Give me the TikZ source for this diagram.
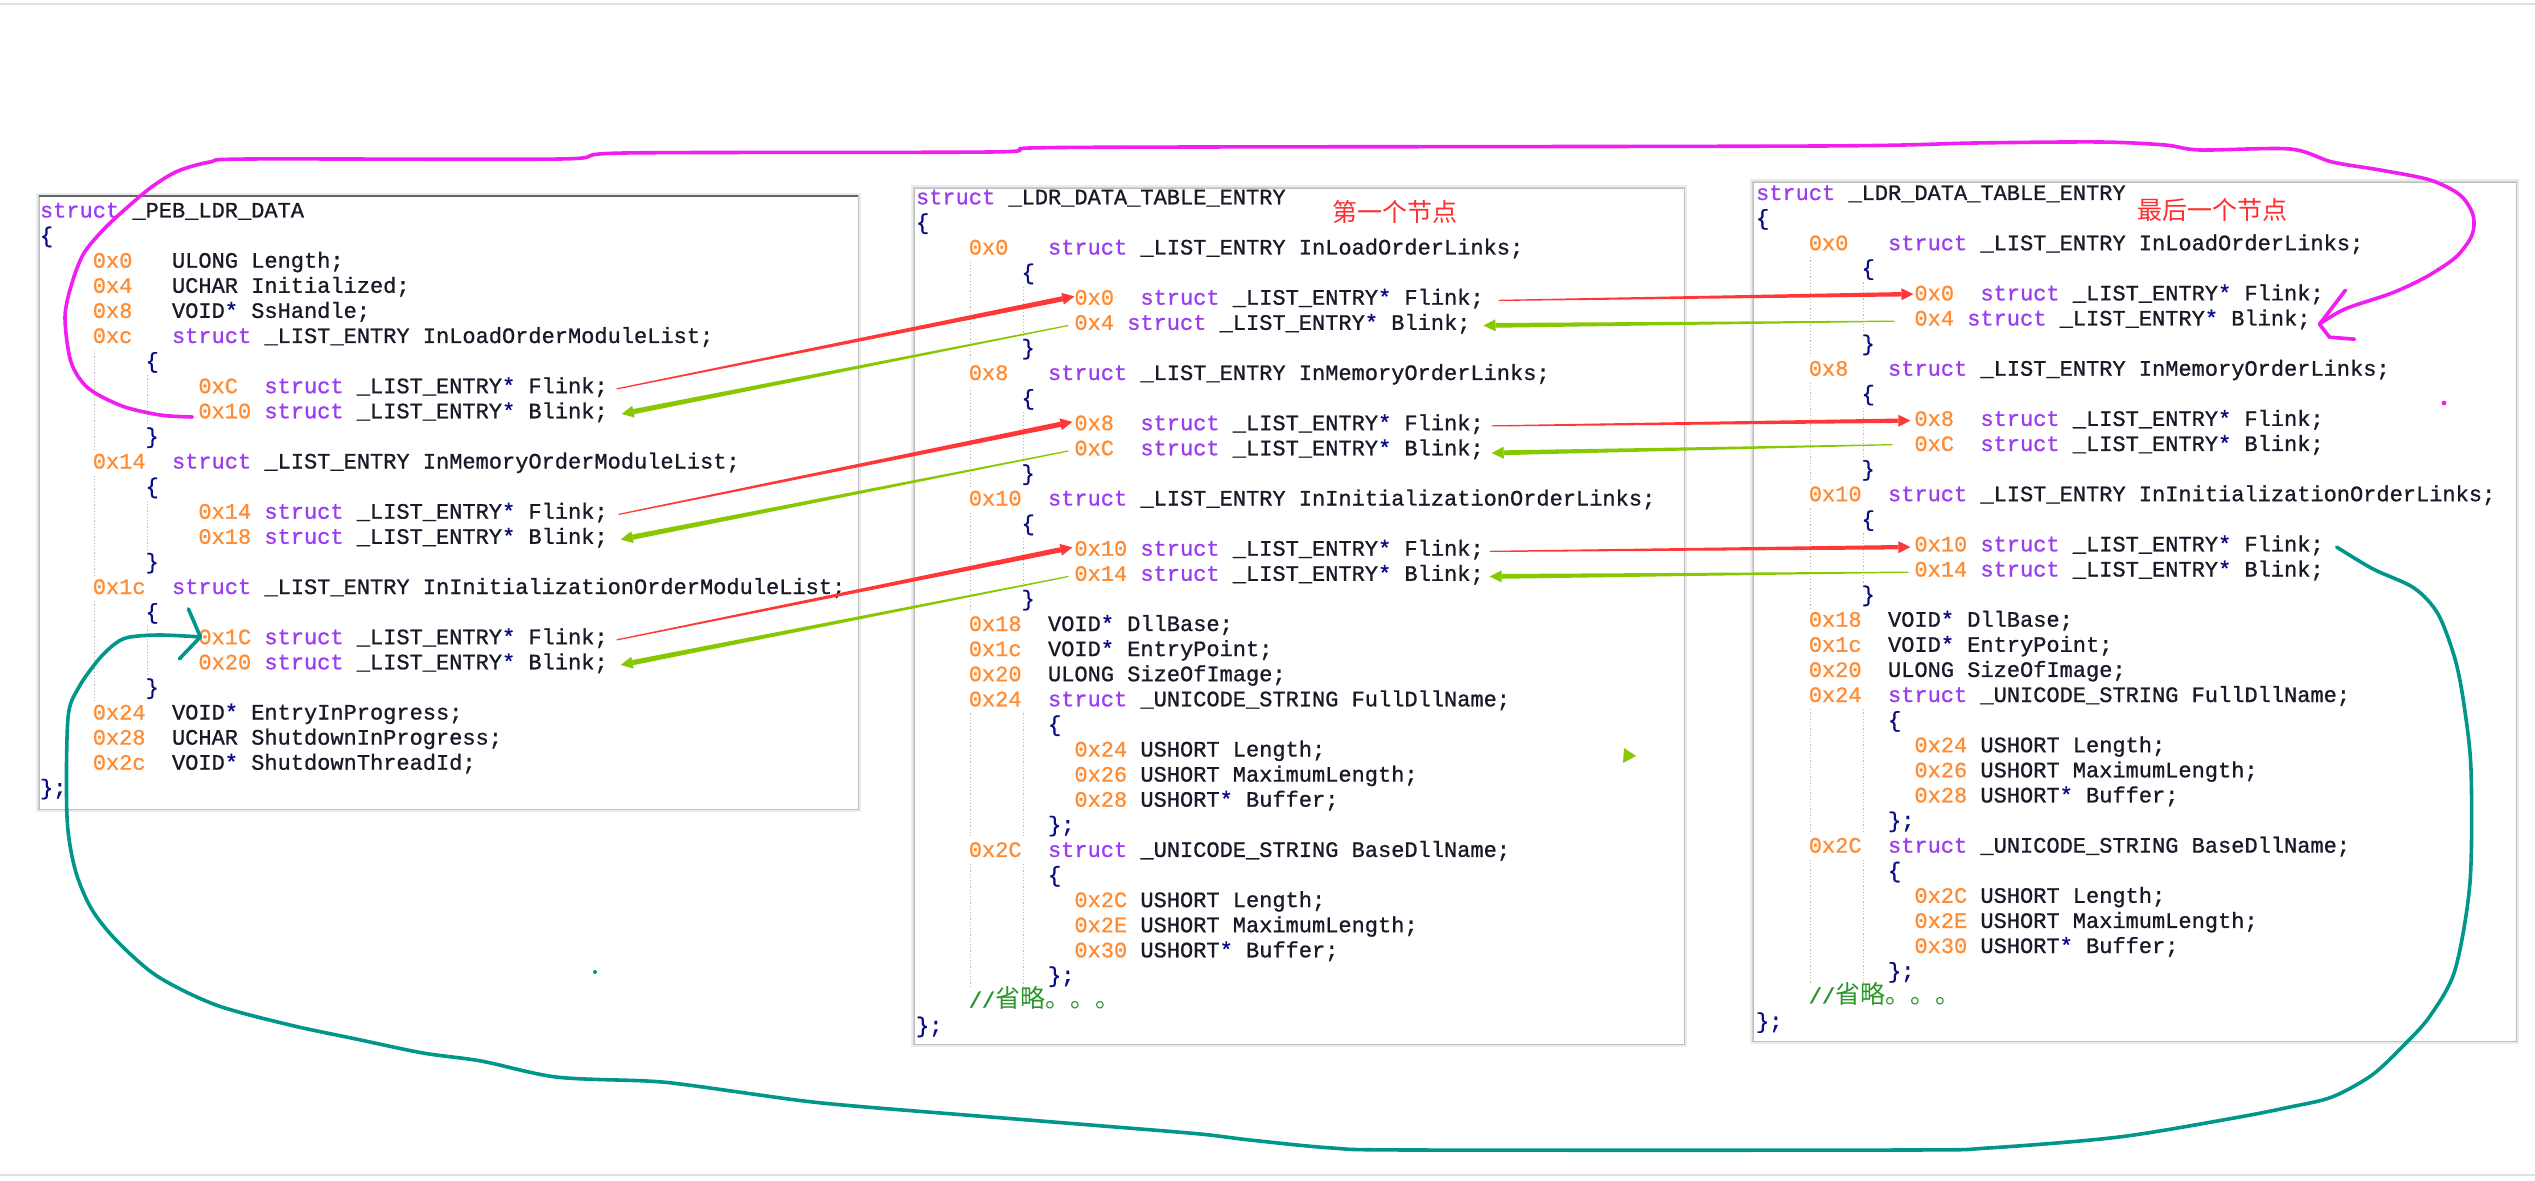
\documentclass[tikz,border=0pt]{standalone}
\usepackage{fontspec}
\newfontfamily\codefont{Liberation Mono}[FakeBold=0.9]
\newfontfamily\cjk{Noto Sans CJK SC}
\usetikzlibrary{calc}
\definecolor{kwc}{RGB}{155,60,240}
\definecolor{ofc}{RGB}{255,140,50}
\definecolor{txc}{RGB}{25,25,40}
\definecolor{bcc}{RGB}{10,10,130}
\definecolor{cmc}{RGB}{40,150,40}
\definecolor{lblc}{RGB}{255,45,45}
\definecolor{redar}{RGB}{255,55,55}
\definecolor{grnar}{RGB}{135,200,0}
\definecolor{magc}{RGB}{240,30,240}
\definecolor{tealc}{RGB}{0,150,140}
\definecolor{guidec}{RGB}{185,185,185}
\newcommand\kw[1]{\textcolor{kwc}{#1}}
\newcommand\of[1]{\textcolor{ofc}{#1}}
\newcommand\bc[1]{\textcolor{bcc}{#1}}
% name, X0, Y0, row, col, text
\newcommand\cdl[6]{\node[code] (#1) at ({#2+#5*13.2},{#3+#4*25.1+6}) {#6};}
% X0, Y0, col, row1, row2
\newcommand\guide[5]{\draw[guide] ({#1+#3*13.2+2},{#2+#4*25.1-12}) -- ({#1+#3*13.2+2},{#2+#5*25.1+12});}
% x1,y1,x2,y2
\newcommand\panel[4]{%
  \draw[black!8, line width=3pt] (#1,#2) rectangle (#3,#4);
  \draw[black!18, line width=1.4pt] (#1,#2) rectangle (#3,#4);
  \fill[white] (#1,#2) rectangle (#3,#4);
  \draw[black!25, line width=0.4pt] (#1,#2) rectangle (#3,#4);}
% colour, tail, tip, shaft half width
\newcommand\tarrow[4]{%
  \coordinate (hb) at ($(#3)!6pt!(#2)$);
  \fill[#1] ($(#2)!0.3pt!90:(#3)$) -- ($(hb)!#4!-90:(#2)$) -- ($(hb)!#4!90:(#2)$) -- ($(#2)!0.3pt!-90:(#3)$) -- cycle;
  \fill[#1] (#3) -- ($(hb)!3pt!90:(#2)$) -- ($(hb)!3pt!-90:(#2)$) -- cycle;}
\newcommand\cmt{\textcolor{cmc}{//{\cjk\fontsize{12.5pt}{12.5pt}\selectfont 省略。。。}}}
% prefix, X0, Y0
\newcommand\ldrpanel[3]{%
  \guide{#2}{#3}{4}{3}{6}\guide{#2}{#3}{8}{4}{5}
  \guide{#2}{#3}{4}{8}{11}\guide{#2}{#3}{8}{9}{10}
  \guide{#2}{#3}{4}{13}{16}\guide{#2}{#3}{8}{14}{15}
  \guide{#2}{#3}{4}{21}{25}\guide{#2}{#3}{8}{21}{25}
  \guide{#2}{#3}{4}{27}{31}\guide{#2}{#3}{8}{27}{31}
  \cdl{#10}{#2}{#3}{0}{0}{\kw{struct} \_LDR\_DATA\_TABLE\_ENTRY}
  \cdl{#11}{#2}{#3}{1}{0}{\bc{\{}}
  \cdl{#12}{#2}{#3}{2}{4}{\of{0x0}~~~\kw{struct} \_LIST\_ENTRY InLoadOrderLinks;}
  \cdl{#13}{#2}{#3}{3}{8}{\bc{\{}}
  \cdl{#14}{#2}{#3}{4}{12}{\of{0x0}~~\kw{struct} \_LIST\_ENTRY\bc{*} Flink;}
  \cdl{#15}{#2}{#3}{5}{12}{\of{0x4} \kw{struct} \_LIST\_ENTRY\bc{*} Blink;}
  \cdl{#16}{#2}{#3}{6}{8}{\bc{\}}}
  \cdl{#17}{#2}{#3}{7}{4}{\of{0x8}~~~\kw{struct} \_LIST\_ENTRY InMemoryOrderLinks;}
  \cdl{#18}{#2}{#3}{8}{8}{\bc{\{}}
  \cdl{#19}{#2}{#3}{9}{12}{\of{0x8}~~\kw{struct} \_LIST\_ENTRY\bc{*} Flink;}
  \cdl{#110}{#2}{#3}{10}{12}{\of{0xC}~~\kw{struct} \_LIST\_ENTRY\bc{*} Blink;}
  \cdl{#111}{#2}{#3}{11}{8}{\bc{\}}}
  \cdl{#112}{#2}{#3}{12}{4}{\of{0x10}~~\kw{struct} \_LIST\_ENTRY InInitializationOrderLinks;}
  \cdl{#113}{#2}{#3}{13}{8}{\bc{\{}}
  \cdl{#114}{#2}{#3}{14}{12}{\of{0x10} \kw{struct} \_LIST\_ENTRY\bc{*} Flink;}
  \cdl{#115}{#2}{#3}{15}{12}{\of{0x14} \kw{struct} \_LIST\_ENTRY\bc{*} Blink;}
  \cdl{#116}{#2}{#3}{16}{8}{\bc{\}}}
  \cdl{#117}{#2}{#3}{17}{4}{\of{0x18}~~VOID\bc{*} DllBase;}
  \cdl{#118}{#2}{#3}{18}{4}{\of{0x1c}~~VOID\bc{*} EntryPoint;}
  \cdl{#119}{#2}{#3}{19}{4}{\of{0x20}~~ULONG SizeOfImage;}
  \cdl{#120}{#2}{#3}{20}{4}{\of{0x24}~~\kw{struct} \_UNICODE\_STRING FullDllName;}
  \cdl{#121}{#2}{#3}{21}{10}{\bc{\{}}
  \cdl{#122}{#2}{#3}{22}{12}{\of{0x24} USHORT Length;}
  \cdl{#123}{#2}{#3}{23}{12}{\of{0x26} USHORT MaximumLength;}
  \cdl{#124}{#2}{#3}{24}{12}{\of{0x28} USHORT\bc{*} Buffer;}
  \cdl{#125}{#2}{#3}{25}{10}{\bc{\};}}
  \cdl{#126}{#2}{#3}{26}{4}{\of{0x2C}~~\kw{struct} \_UNICODE\_STRING BaseDllName;}
  \cdl{#127}{#2}{#3}{27}{10}{\bc{\{}}
  \cdl{#128}{#2}{#3}{28}{12}{\of{0x2C} USHORT Length;}
  \cdl{#129}{#2}{#3}{29}{12}{\of{0x2E} USHORT MaximumLength;}
  \cdl{#130}{#2}{#3}{30}{12}{\of{0x30} USHORT\bc{*} Buffer;}
  \cdl{#131}{#2}{#3}{31}{10}{\bc{\};}}
  \cdl{#132}{#2}{#3}{32}{4}{\cmt}
  \cdl{#133}{#2}{#3}{33}{0}{\bc{\};}}}
\begin{document}
\begin{tikzpicture}[x=0.5pt,y=-0.5pt,
  code/.style={anchor=base west, inner sep=0pt, outer sep=0pt,
    font=\codefont\fontsize{11pt}{12pt}\selectfont, text=txc},
  guide/.style={guidec, line width=0.5pt, dash pattern=on 0.6pt off 1pt},
  lbl/.style={inner sep=0pt, text=lblc, font=\cjk\fontsize{12.5pt}{15pt}\selectfont},
  freehand/.style={line width=1.8pt, line cap=round, line join=round}]
\useasboundingbox (0,0) rectangle (2535,1181);
\fill[white] (0,0) rectangle (2535,1181);
\draw[black!12, line width=1pt] (0,4) -- (2535,4);
\draw[black!12, line width=1pt] (0,1175) -- (2535,1175);
% panels
\panel{39}{196}{858}{809}
\draw[black!60, line width=1pt] (39,196) -- (858,196);
\panel{914}{188}{1684}{1044}
\panel{1753}{182}{2516}{1041}
% left panel guides
\guide{40}{211.5}{4}{6}{9}\guide{40}{211.5}{8}{7}{8}
\guide{40}{211.5}{4}{11}{14}\guide{40}{211.5}{8}{12}{13}
\guide{40}{211.5}{4}{16}{19}\guide{40}{211.5}{8}{17}{18}
% left panel text
\cdl{L0}{40}{211.5}{0}{0}{\kw{struct} \_PEB\_LDR\_DATA}
\cdl{L1}{40}{211.5}{1}{0}{\bc{\{}}
\cdl{L2}{40}{211.5}{2}{4}{\of{0x0}~~~ULONG Length;}
\cdl{L3}{40}{211.5}{3}{4}{\of{0x4}~~~UCHAR Initialized;}
\cdl{L4}{40}{211.5}{4}{4}{\of{0x8}~~~VOID\bc{*} SsHandle;}
\cdl{L5}{40}{211.5}{5}{4}{\of{0xc}~~~\kw{struct} \_LIST\_ENTRY InLoadOrderModuleList;}
\cdl{L6}{40}{211.5}{6}{8}{\bc{\{}}
\cdl{L7}{40}{211.5}{7}{12}{\of{0xC}~~\kw{struct} \_LIST\_ENTRY\bc{*} Flink;}
\cdl{L8}{40}{211.5}{8}{12}{\of{0x10} \kw{struct} \_LIST\_ENTRY\bc{*} Blink;}
\cdl{L9}{40}{211.5}{9}{8}{\bc{\}}}
\cdl{L10}{40}{211.5}{10}{4}{\of{0x14}~~\kw{struct} \_LIST\_ENTRY InMemoryOrderModuleList;}
\cdl{L11}{40}{211.5}{11}{8}{\bc{\{}}
\cdl{L12}{40}{211.5}{12}{12}{\of{0x14} \kw{struct} \_LIST\_ENTRY\bc{*} Flink;}
\cdl{L13}{40}{211.5}{13}{12}{\of{0x18} \kw{struct} \_LIST\_ENTRY\bc{*} Blink;}
\cdl{L14}{40}{211.5}{14}{8}{\bc{\}}}
\cdl{L15}{40}{211.5}{15}{4}{\of{0x1c}~~\kw{struct} \_LIST\_ENTRY InInitializationOrderModuleList;}
\cdl{L16}{40}{211.5}{16}{8}{\bc{\{}}
\cdl{L17}{40}{211.5}{17}{12}{\of{0x1C} \kw{struct} \_LIST\_ENTRY\bc{*} Flink;}
\cdl{L18}{40}{211.5}{18}{12}{\of{0x20} \kw{struct} \_LIST\_ENTRY\bc{*} Blink;}
\cdl{L19}{40}{211.5}{19}{8}{\bc{\}}}
\cdl{L20}{40}{211.5}{20}{4}{\of{0x24}~~VOID\bc{*} EntryInProgress;}
\cdl{L21}{40}{211.5}{21}{4}{\of{0x28}~~UCHAR ShutdownInProgress;}
\cdl{L22}{40}{211.5}{22}{4}{\of{0x2c}~~VOID\bc{*} ShutdownThreadId;}
\cdl{L23}{40}{211.5}{23}{0}{\bc{\};}}
% middle and right panels
\ldrpanel{M}{916}{198.3}
\ldrpanel{R}{1756}{194}
\node[lbl] (lab1) at (1395,212) {第一个节点};
\node[lbl] (lab2) at (2212,210) {最后一个节点};
% arrows left <-> middle
\coordinate (a1t) at ($(L7.mid east)+(9,0)$);   \coordinate (a1h) at ($(M4.mid west)+(0,-4)$);
\coordinate (a2t) at ($(L12.mid east)+(11,0)$); \coordinate (a2h) at ($(M9.mid west)+(-2,-4)$);
\coordinate (a3t) at ($(L17.mid east)+(9,0)$);  \coordinate (a3h) at ($(M14.mid west)+(-2,-4)$);
\coordinate (g1t) at ($(M5.mid west)+(-6,0)$);  \coordinate (g1h) at ($(L8.mid east)+(14,0)$);
\coordinate (g2t) at ($(M10.mid west)+(-6,0)$); \coordinate (g2h) at ($(L13.mid east)+(13,0)$);
\coordinate (g3t) at ($(M15.mid west)+(-6,0)$); \coordinate (g3h) at ($(L18.mid east)+(13,0)$);
\tarrow{redar}{a1t}{a1h}{1.3pt}
\tarrow{redar}{a2t}{a2h}{1.3pt}
\tarrow{redar}{a3t}{a3h}{1.3pt}
\tarrow{grnar}{g1t}{g1h}{1.3pt}
\tarrow{grnar}{g2t}{g2h}{1.3pt}
\tarrow{grnar}{g3t}{g3h}{1.3pt}
% arrows middle <-> right
\coordinate (b1t) at ($(M4.mid east)+(15,0)$);  \coordinate (b1h) at ($(R4.mid west)+(-1,-2)$);
\coordinate (b2t) at ($(M9.mid east)+(8,0)$);   \coordinate (b2h) at ($(R9.mid west)+(-4,-1)$);
\coordinate (b3t) at ($(M14.mid east)+(6,0)$);  \coordinate (b3h) at ($(R14.mid west)+(-4,0)$);
\coordinate (h1t) at ($(R5.mid west)+(-20,0)$); \coordinate (h1h) at ($(M5.mid east)+(13,0)$);
\coordinate (h2t) at ($(R10.mid west)+(-22,-2)$); \coordinate (h2h) at ($(M10.mid east)+(8,2)$);
\coordinate (h3t) at ($(R15.mid west)+(-6,0)$); \coordinate (h3h) at ($(M15.mid east)+(6,0)$);
\tarrow{redar}{b1t}{b1h}{1.1pt}
\tarrow{redar}{b2t}{b2h}{1.1pt}
\tarrow{redar}{b3t}{b3h}{1.1pt}
\tarrow{grnar}{h1t}{h1h}{1.2pt}
\tarrow{grnar}{h2t}{h2h}{1.2pt}
\tarrow{grnar}{h3t}{h3h}{1.2pt}
% magenta freehand
\coordinate (mg0) at ($(L8.mid west)+(-6,3)$);
\coordinate (mg1) at ($(R5.mid east)+(9,3)$);
\draw[freehand, magc] plot[smooth, tension=0.5] coordinates {(mg0) (160,415) (122,406) (88,388) (71,362) (65,317) (72,283) (84,253) (105,228) (130,205) (153,186) (178,171) (210,162) (250,159) (560,159) (625,153) (990,152) (1030,148) (1200,147) (1820,146) (1975,143) (2100,142) (2165,145) (2200,150) (2290,149) (2332,162) (2380,170) (2430,180) (2460,195) (2473,215) (2472,235) (2456,257) (2426,277) (2392,293) (2345,309) (mg1)};
\draw[freehand, magc] ($(mg1)+(26,-34)$) -- (mg1) -- ($(mg1)+(10,13)$) -- ($(mg1)+(35,15)$);
% teal freehand
\coordinate (tl0) at ($(R14.mid east)+(13,0)$);
\coordinate (tl1) at ($(L17.mid west)+(2,-3)$);
\draw[freehand, tealc] plot[smooth, tension=0.5] coordinates {(tl0) (2373,569) (2414,588) (2438,614) (2455,659) (2464,705) (2471,770) (2470,882) (2455,970) (2430,1016) (2405,1044) (2372,1075) (2332,1097) (2290,1107) (2234,1118) (2119,1137) (1988,1148) (1906,1150) (1414,1150) (1332,1148) (1250,1140) (1200,1134) (1103,1126) (953,1114) (854,1106) (796,1100) (688,1085) (647,1081) (556,1077) (481,1061) (423,1053) (356,1039) (290,1025) (216,1005) (157,976) (116,940) (91,908) (75,869) (67,817) (68,718) (79,687) (99,659) (116,643) (130,637) (160,635) (tl1)};
\draw[freehand, tealc] ($(tl1)+(-12,-28)$) -- (tl1) -- ($(tl1)+(-21,22)$);
% stray marks
\fill[magc] (2444,403) circle (1.2pt);
\fill[tealc] (595,972) circle (1pt);
\fill[grnar] (1624,748) -- (1636,756) -- (1623,763) -- cycle;
\end{tikzpicture}
\end{document}
